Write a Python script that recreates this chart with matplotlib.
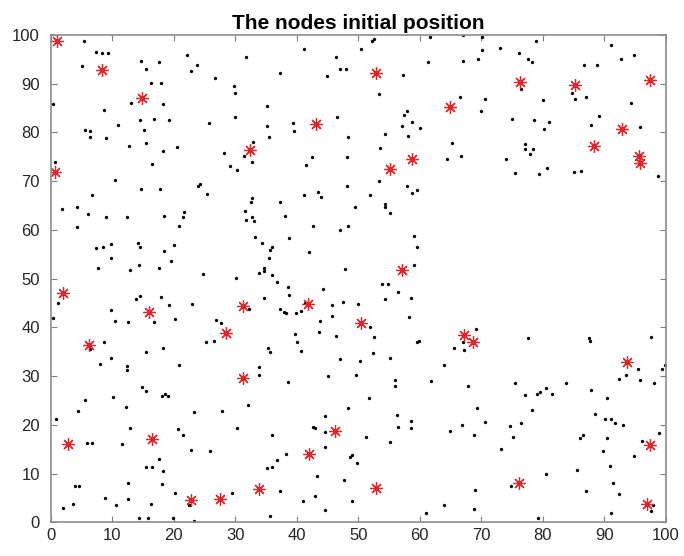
import matplotlib
matplotlib.use("Agg")
import matplotlib.pyplot as plt

# node positions (black dots)
node_x = [5.4, 7.3, 8.3, 9.3, 5.0, 14.7, 17.6, 15.4, 22.1, 23.7, 22.7, 31.7, 26.7, 16.2, 17.9,
          29.8, 29.9, 0.3, 13.0, 18.3, 8.7, 10.9, 14.4, 16.7, 19.2, 25.7, 29.9, 5.5, 6.3, 6.4,
          8.95, 15.1, 15.5, 12.7, 18.2, 20.5, 28.2, 31.4, 32.9,
          41.2, 46.3, 50.4, 52.3, 52.6, 61.6, 61.4, 37.2, 44.9, 47.1, 48.0, 57.3, 53.4, 35.1,
          66.6, 46.6, 57.4, 58.0, 58.7, 57.1, 60.0, 39.3, 39.5, 35.1, 35.5, 48.4, 54.3, 58.1,
          65.2, 53.6, 42.4, 48.1, 66.7,
          67.1, 70.1, 70.1, 73.1, 67.1, 69.5, 76.2, 77.6, 78.2, 78.9, 91.2, 86.8, 88.9, 92.8,
          94.9, 76.4, 84.8, 85.2, 87.0, 70.6, 69.9, 80.0, 94.3, 75.0, 78.6, 81.0, 80.3, 89.2,
          87.9, 95.9, 77.1, 77.1, 78.4, 78.0,
          0.6, 16.5, 10.4, 14.7, 17.7, 6.6, 23.9, 24.2, 25.4, 1.8, 4.2, 6.0, 9.0, 12.4, 18.4,
          21.6, 21.4, 20.9, 4.3, 31.6, 31.8, 32.7, 33.0, 32.5, 32.7, 33.2, 29.2, 30.3, 32.7,
          7.4, 8.5, 9.8, 9.7, 7.7, 14.2, 14.5, 12.9, 14.3, 17.5, 18.4, 20.0, 19.5, 24.8, 30.1,
          41.5, 64.5, 53.3, 48.1, 58.0, 58.8, 59.6, 41.1, 43.5, 44.0, 51.9, 37.2, 54.4, 54.4,
          55.2, 49.4, 38.1, 42.6, 47.1, 48.3, 59.0, 59.5, 38.7, 34.3, 35.9, 35.7, 35.5, 42.0,
          34.7, 34.6, 33.8, 35.9, 36.8, 47.9, 59.1,
          74.0, 75.5, 79.4, 80.7, 85.1, 86.3, 98.7,
          1.2, 0.4, 13.8, 14.4, 17.9, 19.2, 23.0, 9.8, 10.4, 12.6, 16.7, 20.2, 26.9, 27.6, 32.2,
          25.3, 26.6, 6.3, 8.6, 9.8, 8.0, 12.3, 12.3, 15.4, 18.2, 20.9, 14.8, 15.4, 10.1, 5.5,
          18.0, 18.6, 19.0, 32.1,
          53.9, 54.8, 38.5, 38.8, 44.3, 34.6, 56.4, 54.4, 58.6, 41.4, 37.2, 37.9, 38.3, 39.8,
          40.7, 45.7, 47.5, 50.0, 43.7, 45.7, 58.3, 51.9, 39.7, 40.1, 43.6, 46.3, 52.6, 40.6,
          35.3, 35.6, 59.5, 59.8, 65.6, 47.1, 52.4, 50.3, 55.1, 33.8, 33.8, 63.9, 49.6, 45.0,
          38.5, 55.9, 55.9, 61.9, 51.7,
          69.1, 67.0, 67.2, 77.6, 87.5, 87.7, 97.6, 95.6, 93.5, 92.5, 95.8, 98.1, 99.4, 99.9,
          67.8, 75.5, 77.2, 79.1, 79.6, 80.6, 81.5, 83.8, 87.8, 90.5,
          12.2, 4.4, 0.8, 5.9, 6.6, 12.9, 11.5, 20.7, 21.4, 23.2, 27.8, 22.7, 25.9, 30.3, 17.5,
          15.5, 16.4, 18.2, 18.1, 12.6, 3.9, 4.6, 8.8, 10.6, 12.6, 16.2, 3.6, 2.0, 20.2, 22.5,
          29.5, 14.3, 15.7, 19.9, 23.2,
          48.4, 44.6, 56.3, 58.6, 58.6, 56.4, 42.6, 42.9, 44.6, 35.9, 51.3, 55.1, 65.0, 66.9,
          44.6, 38.3, 36.8, 35.1, 35.9, 48.7, 49.0, 49.8, 43.3, 47.6, 37.2, 41.0, 42.9, 49.0,
          44.6, 35.6, 61.1, 64.0,
          69.4, 78.2, 70.6, 74.7, 76.4, 75.1, 68.8, 73.3, 88.6, 90.2, 91.1, 91.7, 93.0, 86.0,
          86.5, 90.5, 89.8, 91.0, 96.1, 99.0, 94.8, 85.6, 80.5, 91.4, 87.0, 92.4, 74.9, 69.0,
          98.0, 97.6, 91.1, 68.9, 79.2]
node_y = [98.8, 96.6, 96.4, 96.2, 93.7, 94.7, 94.5, 93.0, 95.9, 93.9, 92.7, 95.5, 91.1, 90.1, 90.2,
          89.6, 88.0, 85.9, 86.0, 85.9, 84.6, 81.5, 82.6, 82.8, 82.6, 81.9, 83.1, 80.6, 80.2, 79.0,
          78.8, 80.5, 77.9, 77.2, 76.1, 77.0, 75.7, 75.2, 78.0,
          97.1, 95.5, 97.2, 98.7, 99.1, 99.5, 94.5, 92.2, 91.6, 93.0, 93.0, 91.7, 87.8, 85.4,
          87.2, 83.2, 83.6, 84.3, 82.2, 81.4, 80.9, 82.0, 80.2, 81.3, 79.0, 79.1, 79.6, 79.3,
          77.9, 76.8, 75.0, 75.0, 75.1,
          99.9, 99.5, 96.9, 97.4, 94.7, 95.0, 96.4, 95.0, 94.4, 98.7, 97.9, 93.9, 93.8, 95.0,
          95.8, 88.9, 88.0, 86.9, 87.2, 86.8, 84.3, 86.6, 86.0, 82.7, 82.6, 82.1, 80.8, 83.4,
          81.5, 81.1, 77.7, 76.6, 76.6, 75.6,
          73.9, 73.5, 70.2, 68.3, 68.3, 67.1, 69.1, 69.4, 67.4, 64.3, 64.7, 63.2, 62.7, 62.6, 62.9,
          63.6, 62.7, 60.8, 60.5, 63.9, 62.0, 62.7, 61.9, 65.8, 66.5, 58.6, 73.2, 72.2, 74.0,
          56.2, 56.5, 57.2, 54.3, 52.2, 57.4, 56.5, 51.8, 52.7, 52.2, 55.7, 56.9, 53.6, 51.0, 50.2,
          73.4, 74.5, 70.0, 69.1, 69.1, 67.6, 68.1, 67.1, 67.8, 66.8, 67.2, 65.7, 65.4, 64.8,
          63.5, 64.6, 62.8, 60.9, 59.9, 60.7, 58.8, 56.5, 58.3, 57.4, 56.5, 55.9, 54.3, 55.5,
          52.2, 51.6, 51.1, 50.8, 49.3, 52.0, 52.9,
          74.5, 71.7, 71.5, 72.8, 71.8, 72.0, 71.1,
          44.9, 41.9, 45.9, 46.4, 46.3, 44.5, 44.8, 43.5, 41.4, 41.0, 41.0, 41.7, 41.6, 40.8, 43.8,
          37.0, 37.3, 35.6, 37.1, 33.7, 32.5, 32.1, 31.2, 34.9, 35.8, 32.3, 27.7, 26.9, 25.7, 25.0,
          25.9, 26.3, 25.9, 24.1,
          49.0, 49.0, 48.2, 46.6, 47.9, 46.1, 47.3, 45.8, 46.0, 45.1, 43.8, 43.1, 42.9, 42.9,
          43.4, 44.6, 45.2, 44.8, 41.4, 42.3, 42.2, 40.1, 38.7, 37.1, 39.0, 38.2, 38.0, 35.1,
          35.8, 35.0, 36.9, 37.3, 35.7, 33.6, 34.8, 33.0, 33.8, 31.8, 30.3, 32.2, 30.3, 30.0,
          28.8, 29.2, 28.0, 28.9, 25.6,
          39.7, 37.1, 35.4, 37.8, 37.8, 37.2, 38.1, 31.5, 30.3, 29.4, 29.1, 28.6, 31.5, 32.3,
          28.0, 28.5, 26.1, 26.3, 26.7, 27.6, 26.3, 28.5, 27.2, 25.5,
          23.6, 22.8, 21.3, 16.3, 16.3, 19.4, 16.0, 19.1, 18.0, 22.7, 22.8, 14.8, 14.6, 19.4, 13.0,
          11.4, 11.4, 10.6, 7.8, 8.1, 7.5, 7.5, 5.0, 3.5, 4.8, 3.8, 3.8, 2.9, 6.1, 3.5,
          6.0, 0.8, 0.8, 0.95, 0.3,
          23.4, 21.9, 22.0, 20.8, 19.3, 19.5, 19.5, 19.3, 18.6, 17.9, 17.6, 16.5, 18.7, 20.0,
          15.4, 14.0, 12.8, 11.2, 11.3, 13.5, 13.8, 12.2, 9.4, 8.7, 6.4, 4.4, 5.4, 4.4,
          2.6, 1.3, 2.0, 3.5,
          23.5, 23.0, 20.5, 19.8, 20.4, 17.5, 18.0, 15.0, 22.3, 21.3, 21.2, 20.4, 20.0, 17.2,
          18.0, 17.2, 14.6, 11.5, 16.7, 18.3, 13.7, 10.8, 9.9, 8.1, 6.4, 5.9, 7.5, 6.6,
          3.6, 2.3, 2.0, 2.7, 0.8]

# cluster heads (red asterisks)
head_x = [0.9, 8.3, 14.8, 32.4, 52.9, 64.9, 43.2, 76.3, 85.3, 97.5, 92.9, 88.3, 95.7, 0.6,
          55.2, 58.7, 95.8, 57.1, 1.9, 15.9, 31.2, 28.4, 6.1, 31.2, 41.8, 50.4, 67.2, 68.6,
          93.8, 2.8, 16.5, 22.7, 27.5, 33.9, 46.2, 42.0, 52.9, 76.2, 97.5, 97.0]
head_y = [98.8, 92.9, 87.1, 76.3, 92.1, 85.3, 81.8, 90.3, 89.7, 90.7, 80.7, 77.2, 75.2, 71.9,
          72.5, 74.5, 73.8, 51.7, 47.1, 43.2, 44.4, 38.9, 36.3, 29.6, 44.8, 40.8, 38.4, 37.0,
          32.8, 16.0, 17.1, 4.6, 4.7, 6.8, 18.8, 14.1, 7.1, 8.0, 15.9, 3.7]

ticks = list(range(0, 101, 10))

plt.rcParams['font.family'] = ['Liberation Sans', 'DejaVu Sans']

fig = plt.figure(figsize=(6.84, 5.56), dpi=100)
ax = fig.add_axes([0.0746, 0.0606, 0.8984, 0.8765])

ax.plot(node_x, node_y, 'o', color='black', markersize=2.4, markeredgewidth=0)
ax.plot(head_x, head_y, linestyle='none', marker=(8, 2, 0), color='#dc2629',
        markersize=9, markeredgewidth=0.9)

ax.set_xlim(0, 100)
ax.set_ylim(0, 100)
ax.set_xticks(ticks)
ax.set_yticks(ticks)
ax.tick_params(direction='in', top=True, right=True, length=4, width=0.8,
               color='#7f7f7f', labelsize=12, labelcolor='#262626')
ax.tick_params(axis='x', pad=4)
ax.tick_params(axis='y', pad=8)
for s in ax.spines.values():
    s.set_color('#8c8c8c')
    s.set_linewidth(1.2)

ax.set_title('The nodes initial position', fontsize=15, fontweight='bold', pad=4)

fig.savefig('out.png', dpi=100)
